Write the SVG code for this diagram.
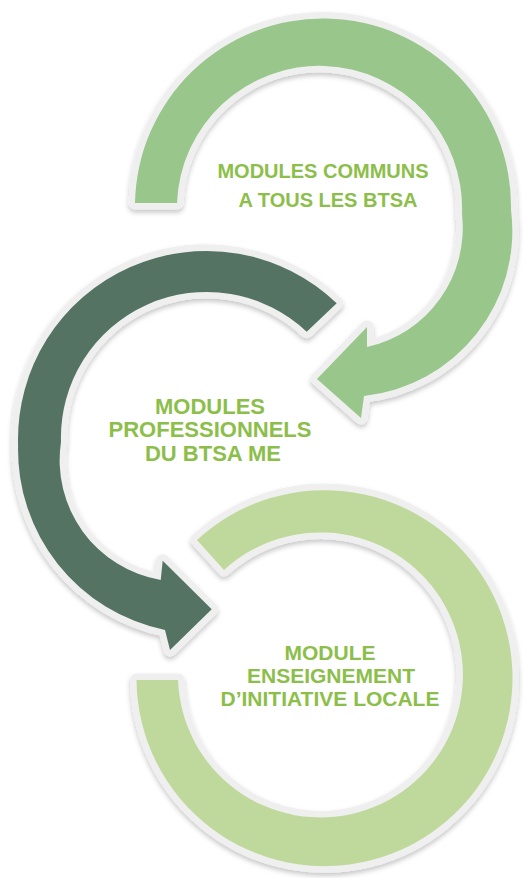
<svg xmlns="http://www.w3.org/2000/svg" width="525" height="878" viewBox="0 0 525 878">
<defs>
<filter id="sh" x="-10%" y="-10%" width="120%" height="120%">
<feDropShadow dx="0" dy="3" stdDeviation="2.5" flood-color="#000" flood-opacity="0.22"/>
</filter>
<style>
.ring{stroke:#efefef;stroke-width:13;stroke-linejoin:round;paint-order:stroke;filter:url(#sh)}
.t{font-family:"Liberation Sans",Arial,sans-serif;font-weight:bold;fill:#8cbe4a;text-anchor:middle}
</style>
</defs>
<rect width="525" height="878" fill="#fff"/>
<g id="connectors"/>
<g id="node-communs">
<path class="ring" fill="#98c68b" d="M135,203 A188,188 0 1 1 511,210 A166,166 0 0 1 364,396 L361,418 L317,379 L367,327 L367,347 A122,122 0 0 0 462,214 A142.5,142.5 0 1 0 177,203 Z"/>
<text class="t" font-size="20" x="323" y="178">MODULES COMMUNS</text>
<text class="t" font-size="20" x="328" y="207">A TOUS LES BTSA</text>
</g>
<g id="node-professionnels">
<path class="ring" fill="#547362" d="M336.7,303.3 A188.4,188.4 0 0 0 18.1,445 A184,184 0 0 0 165,630 L170,650 L211.7,609.3 L162.7,560.7 L160.7,580 A121.5,121.5 0 0 1 61,442 A145.7,145.7 0 0 1 306.7,331.7 Z"/>
<text class="t" font-size="22" x="210" y="414">MODULES</text>
<text class="t" font-size="22" x="210" y="437">PROFESSIONNELS</text>
<text class="t" font-size="22" x="213" y="460.5">DU BTSA ME</text>
</g>
<g id="node-initiative">
<path class="ring" fill="#bed99b" d="M197,540 A188,188 0 1 1 136.5,680 L178,680 A142.5,142.5 0 1 0 224,570 Z"/>
<text class="t" font-size="21" x="330" y="660">MODULE</text>
<text class="t" font-size="21" x="331" y="683">ENSEIGNEMENT</text>
<text class="t" font-size="21" x="330" y="706">D’INITIATIVE LOCALE</text>
</g>
</svg>
